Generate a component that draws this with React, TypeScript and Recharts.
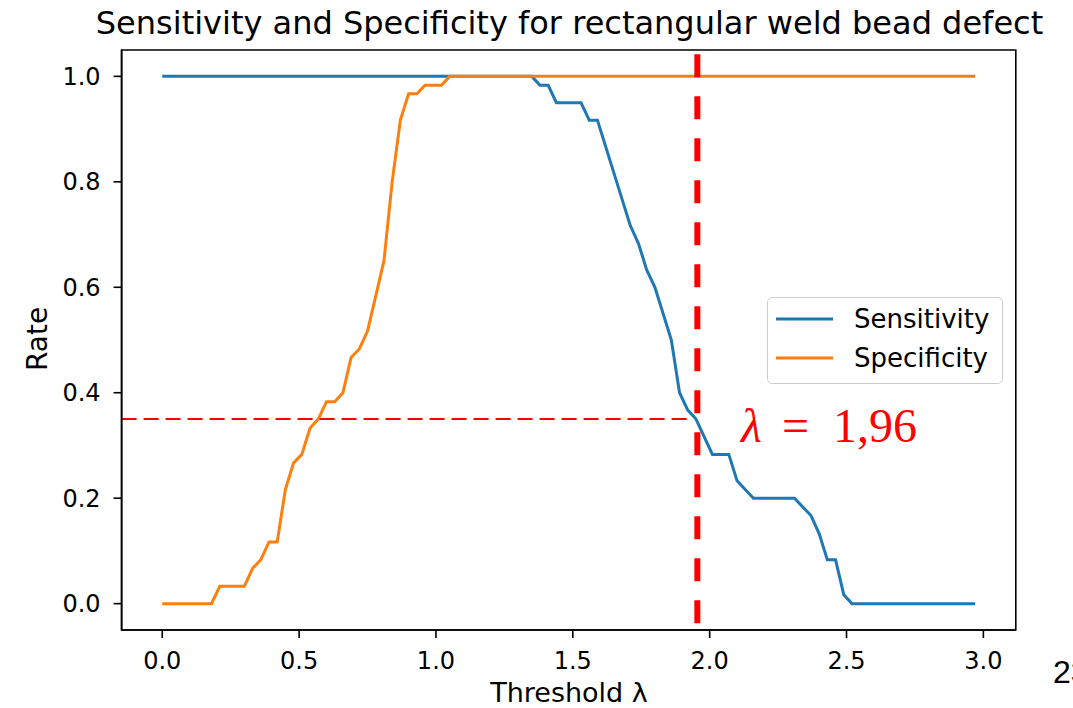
import React from "react";
import {
  LineChart,
  Line,
  XAxis,
  YAxis,
  ReferenceLine,
  ReferenceArea,
  Legend,
} from "recharts";

// threshold values (x) and rates (y) at the corners of each curve
const sensX = [0, 1.35, 1.38, 1.41, 1.44, 1.53, 1.56, 1.59, 1.65, 1.71, 1.74, 1.77, 1.8, 1.86, 1.89, 1.92, 1.95, 2.01, 2.07, 2.1, 2.16, 2.31, 2.37, 2.4, 2.43, 2.46, 2.49, 2.52, 2.97];
const sensY = [1, 1, 0.983, 0.983, 0.95, 0.95, 0.917, 0.917, 0.817, 0.717, 0.683, 0.633, 0.6, 0.5, 0.4, 0.367, 0.35, 0.283, 0.283, 0.233, 0.2, 0.2, 0.167, 0.133, 0.083, 0.083, 0.017, 0, 0];

const specX = [0, 0.18, 0.21, 0.3, 0.33, 0.36, 0.39, 0.42, 0.45, 0.48, 0.51, 0.54, 0.57, 0.6, 0.63, 0.66, 0.69, 0.72, 0.75, 0.81, 0.84, 0.87, 0.9, 0.93, 0.96, 1.02, 1.05, 2.97];
const specY = [0, 0, 0.033, 0.033, 0.067, 0.083, 0.117, 0.117, 0.217, 0.267, 0.283, 0.333, 0.35, 0.383, 0.383, 0.4, 0.467, 0.483, 0.517, 0.65, 0.8, 0.917, 0.967, 0.967, 0.983, 0.983, 1, 1];

const xTicks = [0, 0.5, 1, 1.5, 2, 2.5, 3];
const yTicks = [0, 0.2, 0.4, 0.6, 0.8, 1];

const lambdaCut = 1.955; // vertical marker (labelled 1,96)
const rateCut = 0.35; // horizontal marker
const rateCutEnd = 1.93;

// matplotlib-style 5% margins around 0..2.97 and 0..1
const xDomain: [number, number] = [-0.1485, 3.1185];
const yDomain: [number, number] = [-0.05, 1.05];

const BLUE = "#1f77b4";
const ORANGE = "#ff7f0e";
const FONT = "DejaVu Sans";

const sensData = sensX.map((x, i) => ({ x, y: sensY[i] }));
const specData = specX.map((x, i) => ({ x, y: specY[i] }));

// legend box in matplotlib look
function LegendBox({ payload }: any) {
  const items = payload || [];
  return (
    <svg width={236} height={87} style={{ display: "block" }}>
      <rect x={0.5} y={0.5} width={235} height={86} rx={5} fill="#fff" fillOpacity={0.8} stroke="#cccccc" strokeWidth={1} />
      {items.map((it: any, i: number) => (
        <g key={it.value}>
          <line x1={9} x2={66} y1={22 + i * 39} y2={22 + i * 39} stroke={it.color} strokeWidth={3} />
          <text x={87} y={31 + i * 39} fontSize={26} fontFamily={FONT} fill="#000">
            {it.value}
          </text>
        </g>
      ))}
    </svg>
  );
}

export default function App() {
  const W = 1073;
  const H = 708;
  return (
    <div style={{ position: "absolute", left: 0, top: 0, width: W, height: H, overflow: "hidden", background: "#fff" }}>
      <LineChart
        width={W}
        height={H}
        margin={{ top: 50, right: 57.2, bottom: 38, left: 61.6 }}
      >
        <ReferenceArea
          x1={xDomain[0]}
          x2={xDomain[1]}
          y1={yDomain[0]}
          y2={yDomain[1]}
          fill="none"
          stroke="#000"
          strokeWidth={1.6}
          ifOverflow="visible"
        />
        <XAxis
          type="number"
          dataKey="x"
          domain={xDomain}
          allowDataOverflow
          ticks={xTicks}
          interval={0}
          tickFormatter={(v: number) => v.toFixed(1)}
          height={40}
          tickSize={8}
          tickMargin={14}
          axisLine={{ stroke: "#000", strokeWidth: 1.6 }}
          tickLine={{ stroke: "#000", strokeWidth: 1.6 }}
          tick={{ fontSize: 24, fill: "#000", fontFamily: FONT }}
        />
        <YAxis
          type="number"
          domain={yDomain}
          allowDataOverflow
          ticks={yTicks}
          interval={0}
          tickFormatter={(v: number) => v.toFixed(1)}
          width={60}
          tickSize={8}
          tickMargin={13}
          axisLine={{ stroke: "#000", strokeWidth: 1.6 }}
          tickLine={{ stroke: "#000", strokeWidth: 1.6 }}
          tick={{ fontSize: 24, fill: "#000", fontFamily: FONT }}
        />
        <Line
          data={sensData}
          dataKey="y"
          name="Sensitivity"
          type="linear"
          stroke={BLUE}
          strokeWidth={3}
          dot={false}
          isAnimationActive={false}
        />
        <Line
          data={specData}
          dataKey="y"
          name="Specificity"
          type="linear"
          stroke={ORANGE}
          strokeWidth={3}
          dot={false}
          isAnimationActive={false}
        />
        <ReferenceLine
          segment={[
            { x: xDomain[0], y: rateCut },
            { x: rateCutEnd, y: rateCut },
          ]}
          stroke="#ff0000"
          strokeWidth={2}
          strokeDasharray="15 7"
        />
        <ReferenceLine
          segment={[
            { x: lambdaCut, y: 1.042 },
            { x: lambdaCut, y: yDomain[0] },
          ]}
          stroke="#ff0000"
          strokeWidth={6}
          strokeDasharray="23 19"
        />
        <Legend
          layout="horizontal"
          verticalAlign="middle"
          align="center"
          content={<LegendBox />}
          wrapperStyle={{ left: 767, top: 297, width: 236, height: 87 }}
        />
      </LineChart>

      {/* title, axis labels and slide annotations */}
      <svg
        width={W}
        height={H}
        style={{ position: "absolute", left: 0, top: 0, pointerEvents: "none" }}
      >
        <text x={569.5} y={34} textAnchor="middle" fontSize={32} fontFamily={FONT} fill="#000">
          Sensitivity and Specificity for rectangular weld bead defect
        </text>
        <text x={569} y={702} textAnchor="middle" fontSize={27} fontFamily={FONT} fill="#000">
          Threshold λ
        </text>
        <text
          transform="translate(46.5,339) rotate(-90)"
          textAnchor="middle"
          fontSize={28}
          fontFamily={FONT}
          fill="#000"
        >
          Rate
        </text>
        <text y={442} fontSize={48} fontFamily="Liberation Serif" fill="#ff0000">
          <tspan x={741} fontStyle="italic">λ</tspan>
          <tspan x={782}>=</tspan>
          <tspan x={833}>1,96</tspan>
        </text>
        <text x={1053} y={683} fontSize={32} fontFamily="Liberation Sans" fill="#000">
          23
        </text>
      </svg>
    </div>
  );
}
